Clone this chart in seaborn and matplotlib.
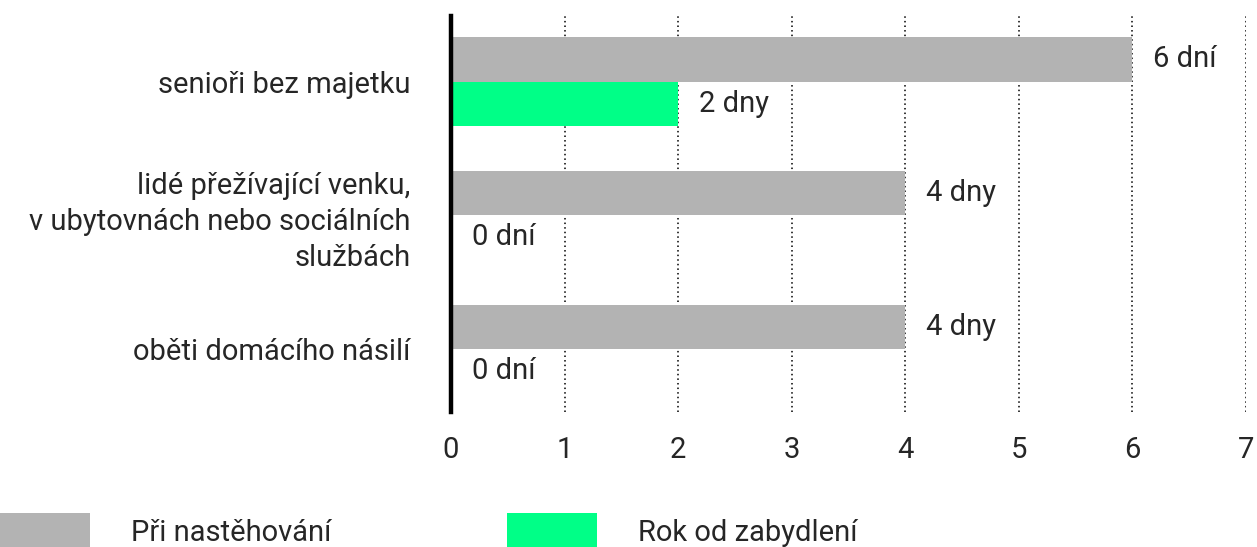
import pandas as pd
import matplotlib.pyplot as plt
import seaborn as sns
from matplotlib.patches import Patch

categories = ['senioři bez majetku',
              'lidé přežívající venku,\nv ubytovnách nebo sociálních\nslužbách',
              'oběti domácího násilí']
series = ['Při nastěhování', 'Rok od zabydlení']
values_start = [6, 4, 4]
values_year = [2, 0, 0]
labels_start = ['6 dní', '4 dny', '4 dny']
labels_year = ['2 dny', '0 dní', '0 dní']
colors = ['#b3b3b3', '#00ff87']

df = pd.DataFrame({
    'skupina': categories * 2,
    'serie': [series[0]] * 3 + [series[1]] * 3,
    'dny': values_start + values_year,
})

sns.set_style('white')
plt.rcParams['font.family'] = ['Roboto', 'DejaVu Sans']
fs = 21

fig = plt.figure(figsize=(12.57, 5.47), dpi=100)
ax = fig.add_axes([451 / 1257, 1 - 412 / 547, (1246 - 451) / 1257, (412 - 16) / 547])

sns.barplot(data=df, y='skupina', x='dny', hue='serie', hue_order=series,
            palette=colors, width=0.66, orient='h', ax=ax, legend=False,
            saturation=1, linewidth=0)

for cont, labs in zip(ax.containers, [labels_start, labels_year]):
    ax.bar_label(cont, labels=labs, padding=15, fontsize=fs)

ax.set_xlim(0, 7)
ax.set_ylim(2.47, -0.49)
ax.set_xticks(range(8))
ax.tick_params(axis='x', length=0, pad=17, labelsize=fs)
ax.tick_params(axis='y', length=0, pad=29, labelsize=fs)
for t in ax.get_yticklabels():
    t.set_horizontalalignment('right')
    t.set_multialignment('right')
    t.set_linespacing(1.35)
ax.set_xlabel('')
ax.set_ylabel('')
ax.grid(axis='x', linestyle=(0, (1, 2)), color='black', linewidth=1.1)
for b in ax.patches:
    b.set_zorder(1)
for gl in ax.get_xgridlines():
    gl.set_zorder(2)
for s in ['top', 'right', 'bottom']:
    ax.spines[s].set_visible(False)
ax.spines['left'].set_linewidth(3.2)
ax.spines['left'].set_color('black')
ax.spines['left'].set_zorder(3)

handles = [Patch(facecolor=c, edgecolor='none') for c in colors]
fig.legend(handles, series, loc='lower left', bbox_to_anchor=(0, -0.005),
           ncol=2, frameon=False, fontsize=fs, handlelength=3.1,
           handleheight=1.55, handletextpad=1.4, columnspacing=6.0,
           borderaxespad=0, borderpad=0)

fig.savefig('out.png', dpi=100)
